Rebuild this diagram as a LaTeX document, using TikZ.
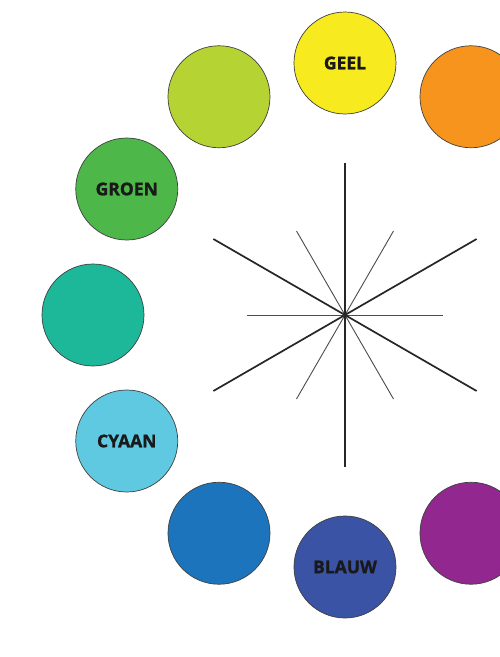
\documentclass[tikz,border=0pt]{standalone}
\usepackage{fontspec}
\setsansfont{Open Sans}[BoldFeatures={FakeBold=1.2}]
\usepackage{xcolor}
\usetikzlibrary{positioning}

\definecolor{geel}{HTML}{F7EA1E}
\definecolor{oranje}{HTML}{F7941E}
\definecolor{geelgroen}{HTML}{B6D334}
\definecolor{groen}{HTML}{4DB74A}
\definecolor{blauwgroen}{HTML}{1DB89A}
\definecolor{cyaan}{HTML}{5FC9E1}
\definecolor{middenblauw}{HTML}{1C75BC}
\definecolor{blauw}{HTML}{3A53A4}
\definecolor{paars}{HTML}{92278F}

\begin{document}
\begin{tikzpicture}[x=1pt, y=1pt,
  colour/.style={circle, draw=black!75, line width=0.7pt, minimum size=102pt,
    inner sep=0pt, text=black!90,
    font=\sffamily\bfseries\fontsize{17.5}{17.5}\selectfont},
  spoke/.style={draw=black!85, line width=1.7pt},
  thinspoke/.style={draw=black!70, line width=0.9pt}
]
  \useasboundingbox (-345,-342) rectangle (155,315);
  \clip (-345,-342) rectangle (155,315);
  \fill[white] (-345,-342) rectangle (155,315);

  % Centre of the wheel
  \coordinate (c) at (0,0);

  % Colour circles round the wheel
  \node[colour, fill=geel] (geel) at (90:252) {GEEL};
  \node[colour, fill=oranje] (oranje) at (60:252) {};
  \node[colour, fill=geelgroen] (geelgroen) at (120:252) {};
  \node[colour, fill=groen] (groen) at (150:252) {GROEN};
  \node[colour, fill=blauwgroen] (blauwgroen) at (180:252) {};
  \node[colour, fill=cyaan] (cyaan) at (210:252) {CYAAN};
  \node[colour, fill=middenblauw] (middenblauw) at (240:252) {};
  \node[colour, fill=blauw] (blauw) at (270:252) {BLAUW};
  \node[colour, fill=paars] (paars) at (300:252) {};

  % Thin spokes
  \draw[thinspoke] ([shift={(0:98)}]c) -- ([shift={(180:98)}]c);
  \draw[thinspoke] ([shift={(60:97)}]c) -- ([shift={(240:97)}]c);
  \draw[thinspoke] ([shift={(120:97)}]c) -- ([shift={(300:97)}]c);

  % Thick spokes
  \draw[spoke] ([shift={(90:152)}]c) -- ([shift={(270:152)}]c);
  \draw[spoke] ([shift={(30:152)}]c) -- ([shift={(210:152)}]c);
  \draw[spoke] ([shift={(150:152)}]c) -- ([shift={(330:152)}]c);
\end{tikzpicture}
\end{document}
